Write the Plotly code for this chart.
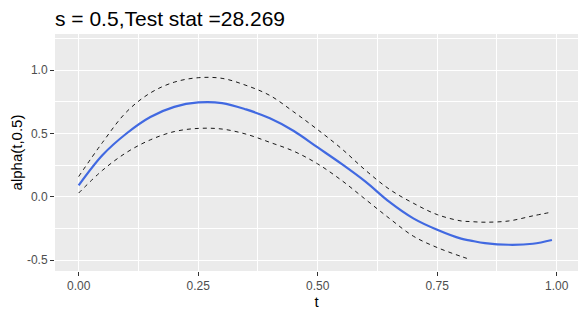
import plotly.graph_objects as go

# ---- data ----
t = [0.00, 0.05, 0.10, 0.15, 0.20, 0.25, 0.30, 0.35, 0.40, 0.45, 0.50,
     0.55, 0.60, 0.65, 0.70, 0.75, 0.80, 0.82, 0.85, 0.90, 0.95, 0.99]
alpha_est = [0.09, 0.33, 0.50, 0.63, 0.71, 0.745, 0.74, 0.69, 0.62, 0.52, 0.39,
             0.26, 0.12, -0.04, -0.17, -0.26, -0.33, -0.345, -0.365, -0.378, -0.37, -0.34]
upper_ci = [0.16, 0.43, 0.67, 0.82, 0.905, 0.94, 0.935, 0.88, 0.80, 0.67, 0.53,
            0.38, 0.21, 0.06, -0.05, -0.14, -0.19, -0.195, -0.20, -0.19, -0.15, -0.12]
lower_ci = [0.03, 0.21, 0.35, 0.45, 0.515, 0.54, 0.535, 0.495, 0.43, 0.36, 0.26,
            0.13, -0.02, -0.17, -0.31, -0.40, -0.47, -0.495, None, None, None, None]

x_ticks = [0, 0.25, 0.5, 0.75, 1.0]
x_ticklabels = ["0.00", "0.25", "0.50", "0.75", "1.00"]
x_minor = [0.125, 0.375, 0.625, 0.875]
y_ticks = [-0.5, 0.0, 0.5, 1.0]
y_ticklabels = ["-0.5", "0.0", "0.5", "1.0"]
y_minor = [-0.25, 0.25, 0.75, 1.25]

title_text = "s = 0.5,Test stat =28.269"

fig = go.Figure()
fig.add_trace(go.Scatter(x=t, y=upper_ci, mode="lines", line=dict(color="black", width=0.9, dash="4px,4px", shape="spline"),
                         showlegend=False, hoverinfo="skip"))
fig.add_trace(go.Scatter(x=t, y=lower_ci, mode="lines", line=dict(color="black", width=0.9, dash="4px,4px", shape="spline"),
                         showlegend=False, hoverinfo="skip", connectgaps=False))
fig.add_trace(go.Scatter(x=t, y=alpha_est, mode="lines", line=dict(color="#4169E1", width=2.2, shape="spline"),
                         showlegend=False))

axis_common = dict(
    showgrid=True, gridcolor="white", gridwidth=1.07, zeroline=False, showline=False,
    ticks="outside", ticklen=4, tickwidth=1.07, tickcolor="#333333", automargin=False,
    tickfont=dict(family="Liberation Sans, Arial, sans-serif", size=12, color="#4D4D4D"),
)

fig.update_layout(
    width=586, height=319,
    margin=dict(l=55, r=8, t=34, b=48),
    paper_bgcolor="white", plot_bgcolor="#EBEBEB",
    font=dict(family="Liberation Sans, Arial, sans-serif", color="black"),
    title=dict(text=title_text, x=0, xref="paper", xanchor="left",
               y=0.942, yref="container", yanchor="middle",
               font=dict(size=21, color="black")),
    xaxis=dict(range=[-0.0495, 1.0445], tickvals=x_ticks, ticktext=x_ticklabels,
               minor=dict(tickvals=x_minor, showgrid=True, gridcolor="white", gridwidth=0.53, ticks=""),
               title=dict(text="t", font=dict(size=15), standoff=4), **axis_common),
    yaxis=dict(range=[-0.585, 1.285], tickvals=y_ticks, ticktext=y_ticklabels,
               minor=dict(tickvals=y_minor, showgrid=True, gridcolor="white", gridwidth=0.53, ticks=""),
               title=dict(text="alpha(t,0.5)", font=dict(size=15), standoff=0), **axis_common),
)

fig.write_html("out.html", config={"displayModeBar": False},
               post_script="document.body.style.margin='0';")
